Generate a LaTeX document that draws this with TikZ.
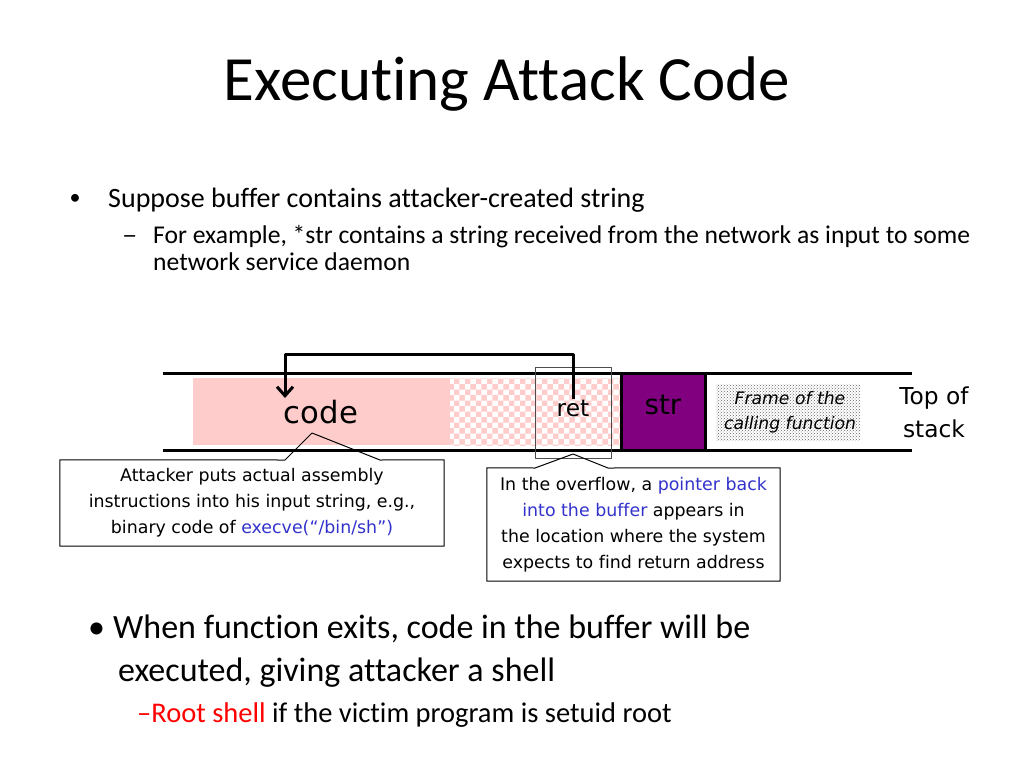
\documentclass[tikz,border=0pt]{standalone}
\usepackage{fontspec}
\setmainfont{Carlito}[Ligatures={TeX,NoCommon}]
\newfontfamily\diagfont{DejaVu Sans}[Ligatures=NoCommon]
\usetikzlibrary{patterns,arrows.meta}
\definecolor{codepink}{HTML}{FFCCCC}
\definecolor{strpurple}{HTML}{800080}
\definecolor{ptrblue}{HTML}{3333CC}
\definecolor{rootred}{HTML}{FF0000}
\begin{document}
\begin{tikzpicture}[x=1pt,y=-1pt,line join=round,
  txt/.style={inner sep=0pt,anchor=base west},
  stackline/.style={line width=3pt},
  lbl/.style={inner sep=0pt,font=\diagfont\fontsize{23.3}{25}\selectfont},
  callout/.style={inner sep=0pt,align=center,font=\diagfont\fontsize{17.4}{26}\selectfont}]
		\useasboundingbox[fill=white] (0,0) rectangle (1024,768);
		% title and bullets
		\node[inner sep=0pt,anchor=base] (title) at (507,100) {\fontsize{63}{66}\selectfont Executing Attack Code};
		\node[inner sep=0pt] (b1) at (75,199) {\fontsize{22}{24}\selectfont •};
		\node[txt] (l1) at (108,207) {\fontsize{28}{32}\selectfont Suppose buffer contains attacker-created string};
		\node[txt,xscale=1.2] (d1) at (122,243) {\fontsize{25.6}{28}\selectfont –};
		\node[txt] (l2) at (153,243) {\fontsize{25.6}{28}\selectfont For example, *str contains a string received from the network as input to some};
		\node[txt] (l3) at (153,270) {\fontsize{25.6}{28}\selectfont network service daemon};
		% the stack
		\fill[codepink] (193,378) rectangle (450,445);
		\fill[pattern=checkerboard,pattern color=codepink] (450,378) rectangle (620,445);
		\fill[pattern=crosshatch dots,pattern color=black!60] (716,384) rectangle (860,440);
		\draw[stackline] (163,373) -- (912,373);
		\draw[stackline] (163,450) -- (912,450);
		\draw[stackline,fill=strpurple] (621,373) rectangle (705,450);
		\draw[black!70,line width=0.8pt] (535,367) rectangle (611,458);
		\node[lbl,font=\diagfont\fontsize{30.7}{32}\selectfont] (code) at (321,412) {code};
		\node[lbl] (ret) at (573,408) {ret};
		\node[lbl,font=\diagfont\fontsize{27.7}{30}\selectfont] (str) at (663,405) {str};
		\node[lbl,align=center,font=\diagfont\itshape\fontsize{17.2}{25}\selectfont] (frame) at (790,412) {Frame of the\\calling function};
		\node[lbl,align=center,font=\diagfont\fontsize{23.3}{33}\selectfont] (top) at (934,412) {Top of\\stack};
		\coordinate (jmp) at (285,398);
		\draw[line width=3pt,-{Straight Barb[length=9pt,width=16pt]}] (ret.north) -- ++(0,-45) -| (jmp);
		% callouts
		\node[callout,minimum width=384pt,minimum height=86pt] (atk) at (252,503)
		  {Attacker puts actual assembly\\instructions into his input string, e.g.,\\binary code of \textcolor{ptrblue}{execve(“/bin/sh”)}};
		\coordinate (atktip) at (312,433);
		\draw[line width=1pt] (atk.north west) -- (285,460) -- (atktip) -- (380,460) -- (atk.north east) -- (atk.south east) -- (atk.south west) -- cycle;
		\node[callout,minimum width=293pt,minimum height=113pt] (ovf) at (633.5,524.5)
		  {In the overflow, a \textcolor{ptrblue}{pointer back}\\\textcolor{ptrblue}{into the buffer} appears in\\the location where the system\\expects to find return address};
		\coordinate (ovftip) at (573,454);
		\draw[line width=1pt] (ovf.north west) -- (535,468) -- (ovftip) -- (608,468) -- (ovf.north east) -- (ovf.south east) -- (ovf.south west) -- cycle;
		% lower bullets
		\node[txt] (b2) at (88,638) {\fontsize{34}{36}\selectfont •};
		\node[txt] (l4) at (113,638) {\fontsize{34}{36}\selectfont When function exits, code in the buffer will be};
		\node[txt] (l5) at (118,681) {\fontsize{34}{36}\selectfont executed, giving attacker a shell};
		\node[txt] (l6) at (137,722) {\fontsize{28.5}{30}\selectfont \textcolor{rootred}{–Root shell} if the victim program is setuid root};
\end{tikzpicture}
\end{document}
